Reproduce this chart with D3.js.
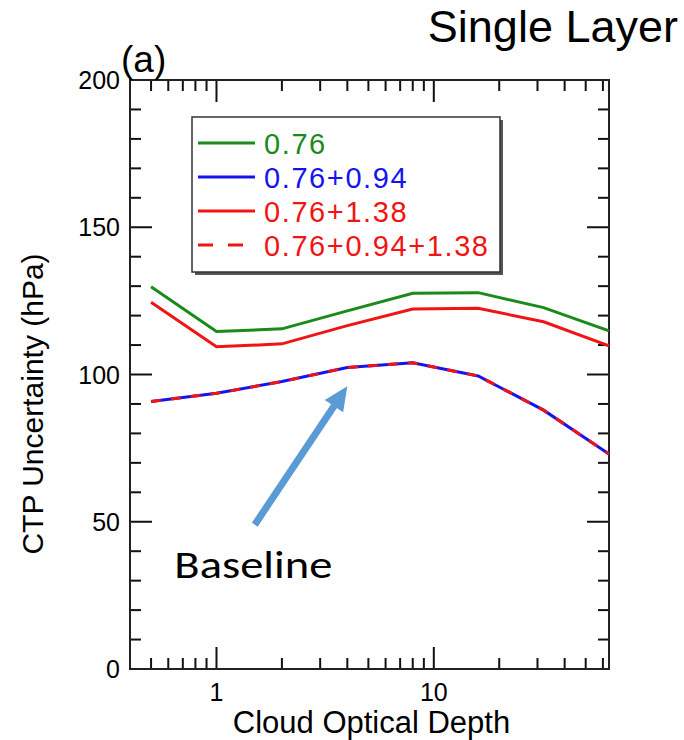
<!DOCTYPE html>
<html>
<head>
<meta charset="utf-8">
<script src="https://cdn.jsdelivr.net/npm/d3@7"></script>
<style>
    body { margin: 0; background: #fff; }
    svg text { font-family: "Liberation Sans", Arial, Helvetica, sans-serif; }
</style>
</head>
<body>
<div class="output"></div>
<script>
// Данные
const depths = [0.5, 1, 2, 4, 8, 16, 32, 64];
const ctp076 = [129.8, 114.6, 115.5, 121.6, 127.6, 127.8, 122.7, 114.8];
const ctp076_094 = [90.8, 93.6, 97.6, 102.4, 104.0, 99.5, 87.9, 73.0];
const ctp076_138 = [124.5, 109.4, 110.4, 116.6, 122.2, 122.5, 117.9, 109.7];
const ctp076_094_138 = [90.8, 93.6, 97.6, 102.4, 104.0, 99.5, 87.9, 73.0];
const seriesNames = ["0.76", "0.76+0.94", "0.76+1.38", "0.76+0.94+1.38"];

const xMajorTicks = [1, 10];
const xMinorTicks = [0.5, 0.6, 0.7, 0.8, 0.9, 2, 3, 4, 5, 6, 7, 8, 9, 20, 30, 40, 50, 60];
const yMajorTicks = [0, 50, 100, 150, 200];
const yMinorTicks = [10, 20, 30, 40, 60, 70, 80, 90, 110, 120, 130, 140, 160, 170, 180, 190];

// Стрелка "Baseline" (в координатах данных)
const arrowFrom = [1.5, 49];
const arrowTo = [4, 96];
const baselineLabelAt = [0.64, 31];

const width = 684, height = 740;
const plot = { left: 130, right: 609, top: 80, bottom: 669 };

const svg = d3.select(".output")
    .append("svg")
    .attr("width", width)
    .attr("height", height);

const x = d3.scaleLog()
    .domain([0.4, 64])
    .range([plot.left, plot.right]);
const y = d3.scaleLinear()
    .domain([0, 200])
    .range([plot.bottom, plot.top]);

// Палитра
const colors = { green: "#1a8a1a", blue: "#1414f0", red: "#f01414" };

// Тики внутрь со всех четырёх сторон
const ticksG = svg.append("g")
    .attr("stroke", "#111")
    .attr("stroke-width", 2);

function xTicks(values, size) {
    [[plot.bottom, -size], [plot.top, size]].forEach(([y0, dy]) => {
        ticksG.append("g")
            .selectAll("line")
            .data(values)
            .enter().append("line")
            .attr("x1", d => x(d)).attr("x2", d => x(d))
            .attr("y1", y0).attr("y2", y0 + dy);
    });
}
function yTicks(values, size) {
    [[plot.left, size], [plot.right, -size]].forEach(([x0, dx]) => {
        ticksG.append("g")
            .selectAll("line")
            .data(values)
            .enter().append("line")
            .attr("y1", d => y(d)).attr("y2", d => y(d))
            .attr("x1", x0).attr("x2", x0 + dx);
    });
}
xTicks(xMajorTicks, 22);
xTicks(xMinorTicks, 11);
yTicks(yMajorTicks, 22);
yTicks(yMinorTicks, 11);

// Подписи тиков
svg.append("g")
    .selectAll("text")
    .data(xMajorTicks)
    .enter().append("text")
    .attr("x", d => x(d))
    .attr("y", 701)
    .attr("text-anchor", "middle")
    .style("font-size", "25px")
    .text(d => d);

svg.append("g")
    .selectAll("text")
    .data(yMajorTicks)
    .enter().append("text")
    .attr("x", 120)
    .attr("y", d => y(d) + 9)
    .attr("text-anchor", "end")
    .style("font-size", "25px")
    .text(d => d);

// Рамка
svg.append("rect")
    .attr("x", plot.left)
    .attr("y", plot.top)
    .attr("width", plot.right - plot.left)
    .attr("height", plot.bottom - plot.top)
    .attr("fill", "none")
    .attr("stroke", "#222")
    .attr("stroke-width", 2);

// Названия осей
svg.append("text")
    .attr("x", (plot.left + plot.right) / 2 + 2)
    .attr("y", 733)
    .attr("text-anchor", "middle")
    .style("font-size", "31px")
    .text("Cloud Optical Depth");

svg.append("text")
    .attr("transform", "translate(43,404) rotate(-90)")
    .attr("text-anchor", "middle")
    .style("font-size", "30px")
    .text("CTP Uncertainty (hPa)");

svg.append("text")
    .attr("x", 121)
    .attr("y", 72)
    .style("font-size", "37px")
    .text("(a)");

svg.append("text")
    .attr("x", 678)
    .attr("y", 42)
    .attr("text-anchor", "end")
    .style("font-size", "45px")
    .text("Single Layer");

// Линии
svg.append("clipPath")
    .attr("id", "clip")
    .append("rect")
    .attr("x", plot.left)
    .attr("y", plot.top)
    .attr("width", plot.right - plot.left)
    .attr("height", plot.bottom - plot.top);

const line = d3.line()
    .x(d => x(d[0]))
    .y(d => y(d[1]));

const lines = [
    { values: ctp076, color: colors.green, dash: null },
    { values: ctp076_138, color: colors.red, dash: null },
    { values: ctp076_094, color: colors.blue, dash: null },
    { values: ctp076_094_138, color: colors.red, dash: "10,10" }
];

svg.append("g")
    .attr("clip-path", "url(#clip)")
    .selectAll("path")
    .data(lines)
    .enter().append("path")
    .attr("d", d => line(depths.map((v, i) => [v, d.values[i]])))
    .attr("fill", "none")
    .attr("stroke", d => d.color)
    .attr("stroke-width", 3)
    .attr("stroke-dasharray", d => d.dash);

// Легенда
const legend = svg.append("g");
legend.append("rect")
    .attr("x", 195).attr("y", 120)
    .attr("width", 308).attr("height", 155)
    .attr("fill", "#555");
legend.append("rect")
    .attr("x", 192).attr("y", 117)
    .attr("width", 308).attr("height", 155)
    .attr("fill", "white")
    .attr("stroke", "#333")
    .attr("stroke-width", 1.5);

const legendItems = [
    { name: seriesNames[0], color: colors.green, dash: null },
    { name: seriesNames[1], color: colors.blue, dash: null },
    { name: seriesNames[2], color: colors.red, dash: null },
    { name: seriesNames[3], color: colors.red, dash: "15,15" }
];
const rowY = [143, 177, 211, 245];

legend.selectAll("line.item")
    .data(legendItems)
    .enter().append("line")
    .attr("class", "item")
    .attr("x1", 198).attr("x2", 255)
    .attr("y1", (d, i) => rowY[i]).attr("y2", (d, i) => rowY[i])
    .attr("stroke", d => d.color)
    .attr("stroke-width", 3)
    .attr("stroke-dasharray", d => d.dash);

legend.selectAll("text")
    .data(legendItems)
    .enter().append("text")
    .attr("x", 264)
    .attr("y", (d, i) => rowY[i] + 10.5)
    .attr("fill", d => d.color)
    .style("font-size", "29px")
    .style("letter-spacing", "1.6px")
    .text(d => d.name);

// Стрелка
const ax1 = x(arrowFrom[0]), ay1 = y(arrowFrom[1]);
const ax2 = x(arrowTo[0]), ay2 = y(arrowTo[1]);
const len = Math.hypot(ax2 - ax1, ay2 - ay1);
const ux = (ax2 - ax1) / len, uy = (ay2 - ay1) / len;
const headLen = 24, headHalf = 11;
const bx = ax2 - ux * headLen, by = ay2 - uy * headLen;

svg.append("line")
    .attr("x1", ax1).attr("y1", ay1)
    .attr("x2", bx + ux * 2).attr("y2", by + uy * 2)
    .attr("stroke", "#5b9bd5")
    .attr("stroke-width", 7);
svg.append("polygon")
    .attr("points", [
        [ax2, ay2],
        [bx - uy * headHalf, by + ux * headHalf],
        [bx + uy * headHalf, by - ux * headHalf]
    ].map(p => p.join(",")).join(" "))
    .attr("fill", "#5b9bd5");

svg.append("text")
    .attr("x", x(baselineLabelAt[0]))
    .attr("y", y(baselineLabelAt[1]))
    .attr("textLength", 158)
    .attr("lengthAdjust", "spacingAndGlyphs")
    .style("font-family", "Carlito, 'Open Sans', 'Liberation Sans', sans-serif")
    .style("font-size", "39px")
    .text("Baseline");
</script>
</body>
</html>
